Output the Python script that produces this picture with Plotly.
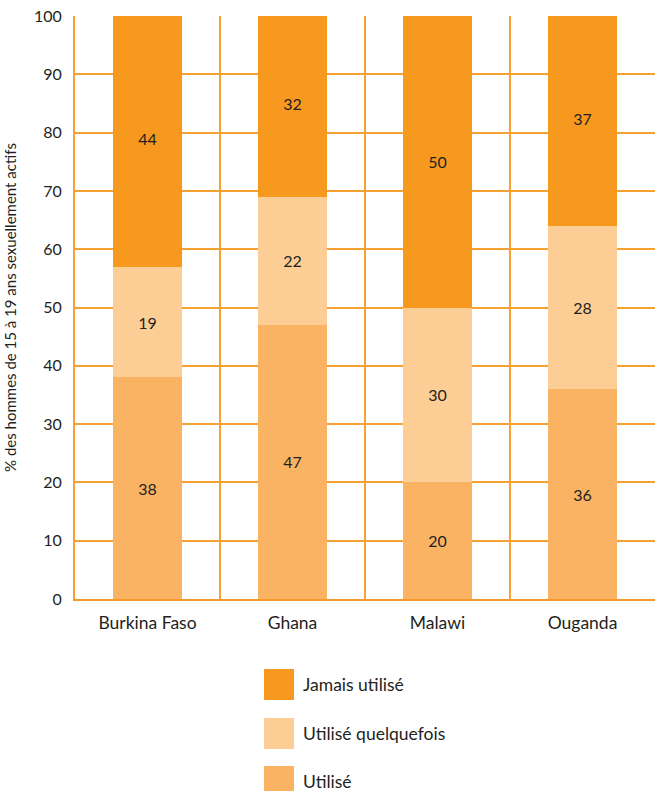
import plotly.graph_objects as go

countries = ["Burkina Faso", "Ghana", "Malawi", "Ouganda"]
utilise = [38, 47, 20, 36]
quelquefois = [19, 22, 30, 28]
jamais = [44, 32, 50, 37]
series_names = ["Utilisé", "Utilisé quelquefois", "Jamais utilisé"]
colors = ["#FAB362", "#FDCD96", "#F7991F"]
y_ticks = list(range(0, 101, 10))

FONT = "Lato"
TXT = "#231F20"
GRID = "#F7A033"

fig = go.Figure()
for name, vals, col in zip(series_names, [utilise, quelquefois, jamais], colors):
    fig.add_trace(go.Bar(
        x=countries, y=vals, name=name, marker_color=col, marker_line_width=0,
        text=vals, textposition="inside", insidetextanchor="middle", textangle=0,
        textfont=dict(family=FONT, size=16, color=TXT), width=0.48,
        showlegend=False, cliponaxis=True,
    ))

fig.update_layout(
    barmode="stack",
    width=655, height=791,
    margin=dict(l=75, r=0, t=16, b=192),
    plot_bgcolor="white", paper_bgcolor="white",
    font=dict(family=FONT, size=16, color=TXT),
    xaxis=dict(
        tickson="boundaries", showgrid=True, gridcolor=GRID, gridwidth=2,
        ticks="", showline=True, linecolor="#F39A2A", linewidth=2,
        tickfont=dict(size=17.5), ticklabelstandoff=7,
    ),
    yaxis=dict(
        range=[0, 100], tickvals=y_ticks, showgrid=True, gridcolor=GRID, gridwidth=2,
        showline=True, linecolor=GRID, linewidth=2, ticks="", zeroline=False,
        tickfont=dict(size=16), ticklabelstandoff=8,
        title=dict(text="% des hommes de 15 à 19 ans sexuellement actifs",
                   font=dict(size=15), standoff=14),
    ),
    showlegend=False,
)

# Custom legend (large squares) in the bottom area
legend_items = [("Jamais utilisé", colors[2]), ("Utilisé quelquefois", colors[1]), ("Utilisé", colors[0])]
tops = [669, 718, 766]
for (label, col), top in zip(legend_items, tops):
    y0 = 1 - (top - 16) / (791 - 16 - 192)
    fig.add_shape(type="rect", xref="paper", yref="paper",
                  x0=(264 - 75) / 580, x1=(294 - 75) / 580,
                  y0=y0 - 31 / 583, y1=y0, fillcolor=col, line_width=0)
    fig.add_annotation(xref="paper", yref="paper", x=(301 - 75) / 580, y=y0 - 15.5 / 583,
                       text=label, showarrow=False, xanchor="left", yanchor="middle",
                       font=dict(size=17.5, color=TXT, family=FONT))

fig.write_html("out.html")
